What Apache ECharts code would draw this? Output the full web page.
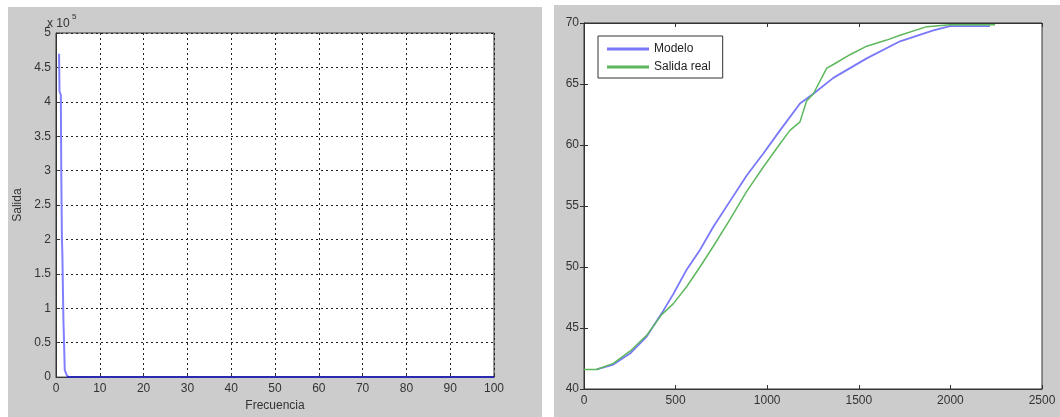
<!DOCTYPE html>
<html>
<head>
<meta charset="utf-8">
<script src="https://cdn.jsdelivr.net/npm/echarts@6/dist/echarts.min.js"></script>
<style>
html,body{margin:0;padding:0;background:#fff;}
#c{width:1060px;height:417px;}
</style>
</head>
<body>
<div id="c"></div>
<script>
// Left chart: Salida vs Frecuencia
const freqPeakX = [0.7, 0.8, 1.1, 1.2, 1.35, 1.45, 1.7, 1.8, 2.0, 2.5, 3.0];
const freqPeakY = [470000, 415000, 410000, 300000, 200000, 180000, 80000, 60000, 10000, 2000, 0];
const freqTailX = [2.5, 100];
const freqTailY = [0, 0];
const freqTicksX = [0, 10, 20, 30, 40, 50, 60, 70, 80, 90, 100];
const salidaTicks = ['0', '0.5', '1', '1.5', '2', '2.5', '3', '3.5', '4', '4.5', '5'];

// Right chart: Modelo vs Salida real
const modeloT = [69, 160, 251, 342, 424, 488, 561, 633, 706, 797, 888, 979, 1070, 1179, 1252, 1361, 1543, 1725, 1907, 1998, 2216];
const modeloY = [41.6, 42.0, 42.9, 44.3, 46.2, 47.8, 49.8, 51.4, 53.3, 55.4, 57.5, 59.3, 61.2, 63.4, 64.2, 65.5, 67.1, 68.5, 69.4, 69.75, 69.75];
const realT = [0, 69, 160, 251, 342, 424, 488, 561, 633, 706, 797, 888, 979, 1070, 1124, 1179, 1215, 1252, 1325, 1361, 1452, 1543, 1652, 1725, 1871, 1998, 2244];
const realY = [41.6, 41.6, 42.1, 43.1, 44.4, 46.1, 47.0, 48.4, 50.0, 51.7, 53.9, 56.2, 58.2, 60.1, 61.2, 61.9, 63.6, 64.2, 66.3, 66.6, 67.4, 68.1, 68.6, 69.0, 69.7, 69.85, 69.85];

const FONT = 'Liberation Sans';
const TXT = '#333';

const chart = echarts.init(document.getElementById('c'), null, {renderer: 'canvas'});

const zip = (a, b) => a.map((v, i) => [v, b[i]]);

const dotted = {show: true, lineStyle: {color: '#222', type: [2, 3], width: 1}};

chart.setOption({
  backgroundColor: '#fff',
  animation: false,
  textStyle: {fontFamily: FONT},
  graphic: [
    {type: 'rect', shape: {x: 8, y: 7, width: 534, height: 410}, style: {fill: '#cccccc'}, z: -100, silent: true},
    {type: 'rect', shape: {x: 554, y: 5, width: 506, height: 412}, style: {fill: '#cccccc'}, z: -100, silent: true},
    {type: 'text', x: 47, y: 18, style: {text: 'x 10', fill: TXT, font: '12px "Liberation Sans"'}, z: 10},
    {type: 'text', x: 72, y: 13, style: {text: '5', fill: TXT, font: '8px "Liberation Sans"'}, z: 10}
  ],
  grid: [
    {left: 56, top: 33, width: 438, height: 351, show: true, backgroundColor: '#fff', borderColor: '#333', borderWidth: 1},
    {left: 584, top: 23, width: 458, height: 366, show: true, backgroundColor: '#fff', borderColor: '#333', borderWidth: 1}
  ],
  legend: {
    show: true,
    left: 598, top: 36,
    orient: 'vertical',
    data: ['Modelo', 'Salida real'],
    backgroundColor: '#fff',
    borderColor: '#333',
    borderWidth: 1,
    padding: [7, 12, 5, 9],
    itemGap: 6,
    itemWidth: 42,
    itemHeight: 3,
    icon: 'rect',
    textStyle: {fontFamily: FONT, fontSize: 12, color: '#222', padding: [0, 0, 0, 0]}
  },
  xAxis: [
    {
      gridIndex: 0, type: 'value', min: 0, max: 100, interval: 10,
      name: 'Frecuencia', nameLocation: 'middle', nameGap: 20,
      nameTextStyle: {fontFamily: FONT, fontSize: 12, color: TXT},
      axisLine: {show: true, lineStyle: {color: '#333'}},
      axisTick: {show: true, inside: true, length: 4, lineStyle: {color: '#333'}},
      axisLabel: {color: TXT, fontSize: 12, fontFamily: FONT, margin: 6},
      splitLine: dotted
    },
    {
      gridIndex: 1, type: 'value', min: 0, max: 2500, interval: 500,
      axisLine: {show: true, lineStyle: {color: '#333'}},
      axisTick: {show: true, inside: true, length: 4, lineStyle: {color: '#333'}},
      axisLabel: {color: TXT, fontSize: 12, fontFamily: FONT, margin: 6, formatter: (v) => String(v)},
      splitLine: {show: false}
    },
    {
      gridIndex: 1, type: 'value', min: 0, max: 2500, interval: 500, position: 'top',
      axisLine: {show: true, lineStyle: {color: '#333'}},
      axisTick: {show: true, inside: true, length: 4, lineStyle: {color: '#333'}},
      axisLabel: {show: false},
      splitLine: {show: false}
    }
  ],
  yAxis: [
    {
      gridIndex: 0, type: 'value', min: 0, max: 500000, interval: 50000,
      name: 'Salida', nameLocation: 'middle', nameGap: 32, nameRotate: 90,
      nameTextStyle: {fontFamily: FONT, fontSize: 12, color: TXT},
      axisLine: {show: true, lineStyle: {color: '#333'}},
      axisTick: {show: true, inside: true, length: 4, lineStyle: {color: '#333'}},
      axisLabel: {color: TXT, fontSize: 12, fontFamily: FONT, margin: 5,
        formatter: (v) => salidaTicks[Math.round(v / 50000)]},
      splitLine: dotted
    },
    {
      gridIndex: 1, type: 'value', min: 40, max: 70, interval: 5,
      axisLine: {show: true, lineStyle: {color: '#333'}},
      axisTick: {show: true, inside: true, length: 4, lineStyle: {color: '#333'}},
      axisLabel: {color: TXT, fontSize: 12, fontFamily: FONT, margin: 5},
      splitLine: {show: false}
    },
    {
      gridIndex: 1, type: 'value', min: 40, max: 70, interval: 5, position: 'right',
      axisLine: {show: true, lineStyle: {color: '#333'}},
      axisTick: {show: true, inside: true, length: 4, lineStyle: {color: '#333'}},
      axisLabel: {show: false},
      splitLine: {show: false}
    }
  ],
  series: [
    {
      name: 'Salida', type: 'line', xAxisIndex: 0, yAxisIndex: 0,
      data: zip(freqPeakX, freqPeakY), showSymbol: false, symbol: 'none',
      lineStyle: {color: '#8080ff', width: 2}, itemStyle: {color: '#8080ff'}, z: 3
    },
    {
      name: 'SalidaTail', type: 'line', xAxisIndex: 0, yAxisIndex: 0,
      data: zip(freqTailX, freqTailY), showSymbol: false, symbol: 'none',
      lineStyle: {color: '#2a2ab0', width: 2}, itemStyle: {color: '#2a2ab0'}, z: 4
    },
    {
      name: 'Modelo', type: 'line', xAxisIndex: 1, yAxisIndex: 1,
      data: zip(modeloT, modeloY), showSymbol: false, symbol: 'none',
      lineStyle: {color: '#7878f8', width: 1.8}, itemStyle: {color: '#7878f8'}, z: 3
    },
    {
      name: 'Salida real', type: 'line', xAxisIndex: 1, yAxisIndex: 1,
      data: zip(realT, realY), showSymbol: false, symbol: 'none',
      lineStyle: {color: '#5db85d', width: 1.5}, itemStyle: {color: '#5db85d'}, z: 4
    }
  ]
});
</script>
</body>
</html>
